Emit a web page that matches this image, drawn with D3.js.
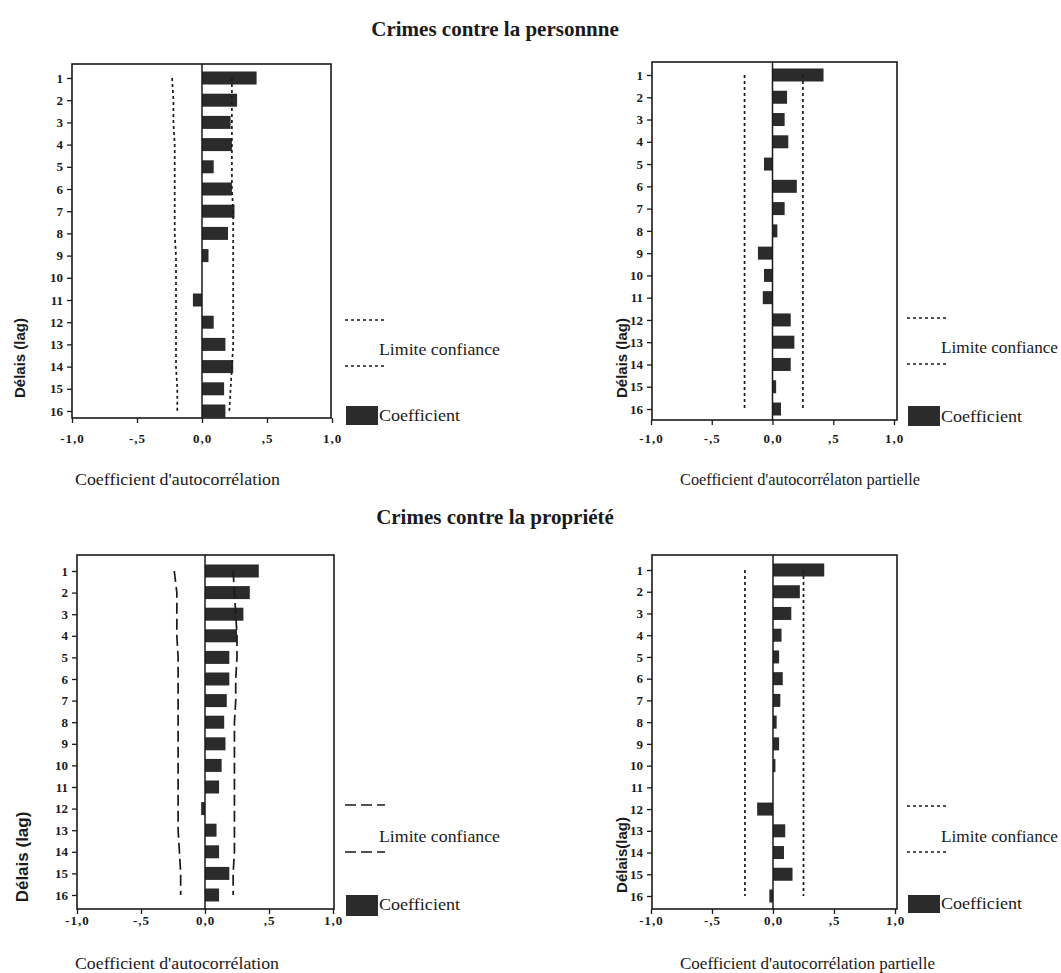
<!DOCTYPE html>
<meta charset="utf-8">
<style>
body { margin: 0; background: #fff; }
svg { display: block; }
.title { font: bold 21px "Liberation Serif", "Times New Roman", serif; fill: #1a1a1a; }
.axis path, .axis line { stroke: #1a1a1a; stroke-width: 1.3px; }
.frame { fill: none; stroke: #1a1a1a; stroke-width: 1.6px; }
.zero { stroke: #1a1a1a; stroke-width: 1.5px; }
.bar { fill: #2b2b2b; }
.limit { fill: none; stroke: #1a1a1a; stroke-width: 1.7px; }
.xtitle, .legend text { font-family: "Liberation Serif", "Times New Roman", serif; fill: #1a1a1a; }
.ytitle { font-family: "Liberation Sans", Arial, sans-serif; font-weight: bold; fill: #1a1a1a; }
</style>
<svg width="1061" height="973"></svg>
<script src="https://cdn.jsdelivr.net/npm/d3@7"></script>
<script>

var lags = [1, 2, 3, 4, 5, 6, 7, 8, 9, 10, 11, 12, 13, 14, 15, 16];
var xTicks = [-1, -0.5, 0, 0.5, 1];
var xTickLabels = ["-1,0", "-,5", "0,0", ",5", "1,0"];

// Crimes contre la personne
var acfPersonne   = [0.42, 0.27, 0.22, 0.23, 0.09, 0.23, 0.25, 0.20, 0.05, 0.00, -0.07, 0.09, 0.18, 0.24, 0.17, 0.18];
var acfPersUpper  = [0.23, 0.23, 0.23, 0.23, 0.23, 0.23, 0.24, 0.24, 0.24, 0.24, 0.24, 0.24, 0.24, 0.23, 0.22, 0.21];
var acfPersLower  = [-0.23, -0.22, -0.22, -0.21, -0.21, -0.21, -0.21, -0.21, -0.20, -0.20, -0.20, -0.20, -0.20, -0.20, -0.19, -0.19];
var pacfPersonne  = [0.42, 0.12, 0.10, 0.13, -0.07, 0.20, 0.10, 0.04, -0.12, -0.07, -0.08, 0.15, 0.18, 0.15, 0.03, 0.07];
var pacfPersUpper = [0.25, 0.25, 0.25, 0.25, 0.25, 0.25, 0.25, 0.25, 0.25, 0.25, 0.25, 0.25, 0.25, 0.25, 0.25, 0.25];
var pacfPersLower = [-0.23, -0.23, -0.23, -0.23, -0.23, -0.23, -0.23, -0.23, -0.23, -0.23, -0.23, -0.23, -0.23, -0.23, -0.23, -0.23];

// Crimes contre la propriété
var acfPropriete  = [0.42, 0.35, 0.30, 0.25, 0.19, 0.19, 0.17, 0.15, 0.16, 0.13, 0.11, -0.03, 0.09, 0.11, 0.19, 0.11];
var acfPropUpper  = [0.22, 0.23, 0.24, 0.25, 0.25, 0.24, 0.24, 0.23, 0.23, 0.23, 0.23, 0.23, 0.23, 0.23, 0.22, 0.22];
var acfPropLower  = [-0.24, -0.22, -0.22, -0.22, -0.21, -0.21, -0.21, -0.21, -0.21, -0.21, -0.21, -0.21, -0.21, -0.20, -0.19, -0.19];
var pacfPropriete = [0.42, 0.22, 0.15, 0.07, 0.05, 0.08, 0.06, 0.03, 0.05, 0.02, 0.00, -0.13, 0.10, 0.09, 0.16, -0.03];
var pacfPropUpper = [0.25, 0.25, 0.25, 0.25, 0.25, 0.25, 0.25, 0.25, 0.25, 0.25, 0.25, 0.25, 0.25, 0.25, 0.25, 0.25];
var pacfPropLower = [-0.23, -0.23, -0.23, -0.23, -0.23, -0.23, -0.23, -0.23, -0.23, -0.23, -0.23, -0.23, -0.23, -0.23, -0.23, -0.23];

var svg = d3.select("svg");

svg.append("text").attr("class", "title")
    .attr("x", 495).attr("y", 36).attr("text-anchor", "middle")
    .text("Crimes contre la personnne");
svg.append("text").attr("class", "title")
    .attr("x", 495).attr("y", 524).attr("text-anchor", "middle")
    .text("Crimes contre la propriété");

var panels = [
  {values: acfPersonne, upper: acfPersUpper, lower: acfPersLower,
   left: 72, right: 331, xr: [72, 332], top: 64, bottom: 418, yr: [78, 411],
   dash: "3,3", xLabelY: 440,
   xTitle: "Coefficient d'autocorrélation", xTitleX: 75, xTitleY: 485, xTitleW: 205,
   yTitle: "Délais (lag)", yTitleSize: 15, yTitleX: 25, yTitleY: 358,
   legX: 345, legDash1: 320, legText: 355, legTextW: 121, legDash2: 366, legRect: [406, 425], legCoef: 421},
  {values: pacfPersonne, upper: pacfPersUpper, lower: pacfPersLower,
   left: 652, right: 897, xr: [651, 894], top: 62, bottom: 420, yr: [75, 409],
   dash: "3,3", xLabelY: 440,
   xTitle: "Coefficient d'autocorrélaton partielle", xTitleX: 680, xTitleY: 485, xTitleW: 240,
   yTitle: "Délais (lag)", yTitleSize: 15, yTitleX: 627, yTitleY: 358,
   legX: 907, legDash1: 318, legText: 353, legTextW: 117, legDash2: 364, legRect: [406, 426], legCoef: 422},
  {values: acfPropriete, upper: acfPropUpper, lower: acfPropLower,
   left: 77, right: 334, xr: [77, 333], top: 555, bottom: 909, yr: [571, 895],
   dash: "11,5", xLabelY: 922,
   xTitle: "Coefficient d'autocorrélation", xTitleX: 75, xTitleY: 969, xTitleW: 204,
   yTitle: "Délais (lag)", yTitleSize: 17, yTitleX: 28, yTitleY: 857,
   legX: 345, legDash1: 805, legText: 842, legTextW: 121, legDash2: 852, legRect: [895, 916], legCoef: 910},
  {values: pacfPropriete, upper: pacfPropUpper, lower: pacfPropLower,
   left: 652, right: 897, xr: [651, 895], top: 555, bottom: 909, yr: [570, 896],
   dash: "3,3", xLabelY: 922,
   xTitle: "Coefficient d'autocorrélation partielle", xTitleX: 680, xTitleY: 969, xTitleW: 255,
   yTitle: "Délais(lag)", yTitleSize: 15, yTitleX: 627, yTitleY: 855,
   legX: 907, legDash1: 806, legText: 842, legTextW: 117, legDash2: 852, legRect: [895, 913], legCoef: 909}
];

panels.forEach(drawPanel);

function drawPanel(p) {
  var x = d3.scaleLinear().domain([-1, 1]).range(p.xr);
  var y = d3.scalePoint().domain(lags).range(p.yr);
  var barH = 13;
  var g = svg.append("g");

  // bars
  g.selectAll(".bar")
    .data(lags)
    .enter().append("rect")
      .attr("class", "bar")
      .attr("x", function(d, i) { return x(Math.min(0, p.values[i])); })
      .attr("y", function(d) { return y(d) - barH / 2; })
      .attr("width", function(d, i) { return Math.abs(x(p.values[i]) - x(0)); })
      .attr("height", barH);

  // confidence limits
  var line = d3.line()
      .x(function(d) { return x(d.v); })
      .y(function(d) { return y(d.lag); });
  [p.upper, p.lower].forEach(function(arr) {
    g.append("path")
      .attr("class", "limit")
      .attr("stroke-dasharray", p.dash)
      .attr("d", line(lags.map(function(l, i) { return {lag: l, v: arr[i]}; })));
  });

  // zero line and frame
  g.append("line").attr("class", "zero")
    .attr("x1", x(0)).attr("x2", x(0)).attr("y1", p.top).attr("y2", p.bottom);
  g.append("rect").attr("class", "frame")
    .attr("x", p.left).attr("y", p.top)
    .attr("width", p.right - p.left).attr("height", p.bottom - p.top);

  // axes
  var ya = g.append("g").attr("class", "axis")
    .attr("transform", "translate(" + p.left + ",0)")
    .call(d3.axisLeft(y).tickSize(5).tickPadding(4))
    .attr("font-family", "'Liberation Serif', serif")
    .attr("font-size", 13)
    .attr("font-weight", "bold");
  ya.select(".domain").remove();
  ya.selectAll("text").attr("fill", "#1a1a1a");

  var xa = g.append("g").attr("class", "axis")
    .attr("transform", "translate(0," + p.bottom + ")")
    .call(d3.axisBottom(x).tickValues(xTicks).tickSize(5)
      .tickFormat(function(d, i) { return xTickLabels[i]; }))
    .attr("font-family", "'Liberation Serif', serif")
    .attr("font-size", 13)
    .attr("font-weight", "bold");
  xa.select(".domain").remove();
  xa.selectAll("text")
    .attr("fill", "#1a1a1a")
    .attr("y", null).attr("dy", null)
    .attr("transform", "translate(0," + (p.xLabelY - p.bottom) + ")")
    .attr("dominant-baseline", "middle")
    .attr("letter-spacing", 1);

  // axis titles
  g.append("text").attr("class", "xtitle")
    .attr("x", p.xTitleX).attr("y", p.xTitleY)
    .attr("textLength", p.xTitleW).attr("lengthAdjust", "spacingAndGlyphs")
    .style("font-size", "16px")
    .text(p.xTitle);
  g.append("text").attr("class", "ytitle")
    .attr("transform", "translate(" + p.yTitleX + "," + p.yTitleY + ") rotate(-90)")
    .attr("text-anchor", "middle")
    .style("font-size", p.yTitleSize + "px")
    .text(p.yTitle);

  // legend
  var lg = g.append("g").attr("class", "legend");
  [p.legDash1, p.legDash2].forEach(function(yy) {
    lg.append("line").attr("class", "limit")
      .attr("stroke-dasharray", p.dash)
      .attr("x1", p.legX).attr("x2", p.legX + 40)
      .attr("y1", yy).attr("y2", yy);
  });
  lg.append("text")
    .attr("x", p.legX + 34).attr("y", p.legText)
    .attr("textLength", p.legTextW).attr("lengthAdjust", "spacingAndGlyphs")
    .style("font-size", "17px")
    .text("Limite confiance");
  lg.append("rect").attr("class", "bar")
    .attr("x", p.legX + 1).attr("y", p.legRect[0])
    .attr("width", 32).attr("height", p.legRect[1] - p.legRect[0]);
  lg.append("text")
    .attr("x", p.legX + 34).attr("y", p.legCoef)
    .attr("textLength", 81).attr("lengthAdjust", "spacingAndGlyphs")
    .style("font-size", "17px")
    .text("Coefficient");
}

</script>
